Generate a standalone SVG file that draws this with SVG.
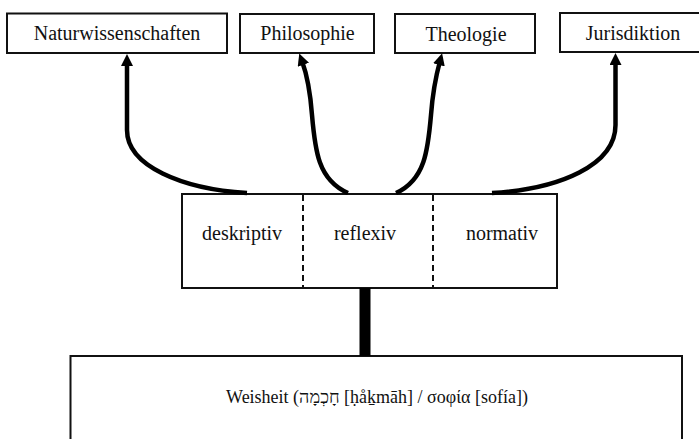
<svg xmlns="http://www.w3.org/2000/svg" width="699" height="439" viewBox="0 0 699 439">
<style>
.box{fill:#fff;stroke:#111;stroke-width:2}
text{font-family:'Liberation Serif','Times New Roman',Tinos,'DejaVu Serif',serif;font-size:20px;fill:#111;text-anchor:middle}
.conn{fill:none;stroke:#000;stroke-width:4.5}
.dash{stroke:#111;stroke-width:2;stroke-dasharray:6 4}
</style>
<defs>
<marker id="ah" viewBox="0 0 12 12" markerWidth="12" markerHeight="12" markerUnits="userSpaceOnUse" refX="4" refY="6" orient="auto">
<path d="M0,0 L12,6 L0,12 z" fill="#000"/>
</marker>
</defs>
<rect width="699" height="439" fill="#fff"/>
<g id="naturwissenschaften">
<rect class="box" x="7" y="13.5" width="220" height="39.5"/>
<text x="117" y="40" font-family="Liberation Serif, serif">Naturwissenschaften</text>
</g>
<g id="philosophie">
<rect class="box" x="240" y="14" width="134" height="39"/>
<text x="307.5" y="40" font-family="Liberation Serif, serif">Philosophie</text>
</g>
<g id="theologie">
<rect class="box" x="395" y="14" width="140" height="39"/>
<text x="466" y="41" font-family="Liberation Serif, serif">Theologie</text>
</g>
<g id="jurisdiktion">
<rect class="box" x="560" y="13" width="150" height="39"/>
<text x="633" y="40" font-family="Liberation Serif, serif">Jurisdiktion</text>
</g>
<g id="modi">
<rect class="box" x="182" y="194" width="375" height="94"/>
<line class="dash" x1="303" y1="195" x2="303" y2="287"/>
<line class="dash" x1="433" y1="195" x2="433" y2="287"/>
<text x="242" y="240" font-family="Liberation Serif, serif">deskriptiv</text>
<text x="365" y="240" font-family="Liberation Serif, serif">reflexiv</text>
<text x="502" y="240" font-family="Liberation Serif, serif">normativ</text>
</g>
<g id="weisheit">
<rect class="box" x="70.5" y="356" width="611.5" height="100"/>
<text x="377" y="403" font-family="Liberation Serif, serif" style="font-size:18px">Weisheit (חָכְמָה [ḥåḵmāh] / σοφία [sofía])</text>
</g>
<g id="connectors">
<rect x="359.5" y="288" width="11" height="68" fill="#000"/>
<path class="conn" marker-end="url(#ah)" d="M247,193 C182,189 127,166 127,130 L127,62"/>
<path class="conn" marker-end="url(#ah)" d="M348,193 C318,180 315,150 312,115 C310,88 306,72 302,61"/>
<path class="conn" marker-end="url(#ah)" d="M396,193 C425,180 428,150 431,115 C433,88 437,72 440,61"/>
<path class="conn" marker-end="url(#ah)" d="M492,193 C560,189 615.5,165 615.5,125 L615.5,61"/>
</g>
</svg>
